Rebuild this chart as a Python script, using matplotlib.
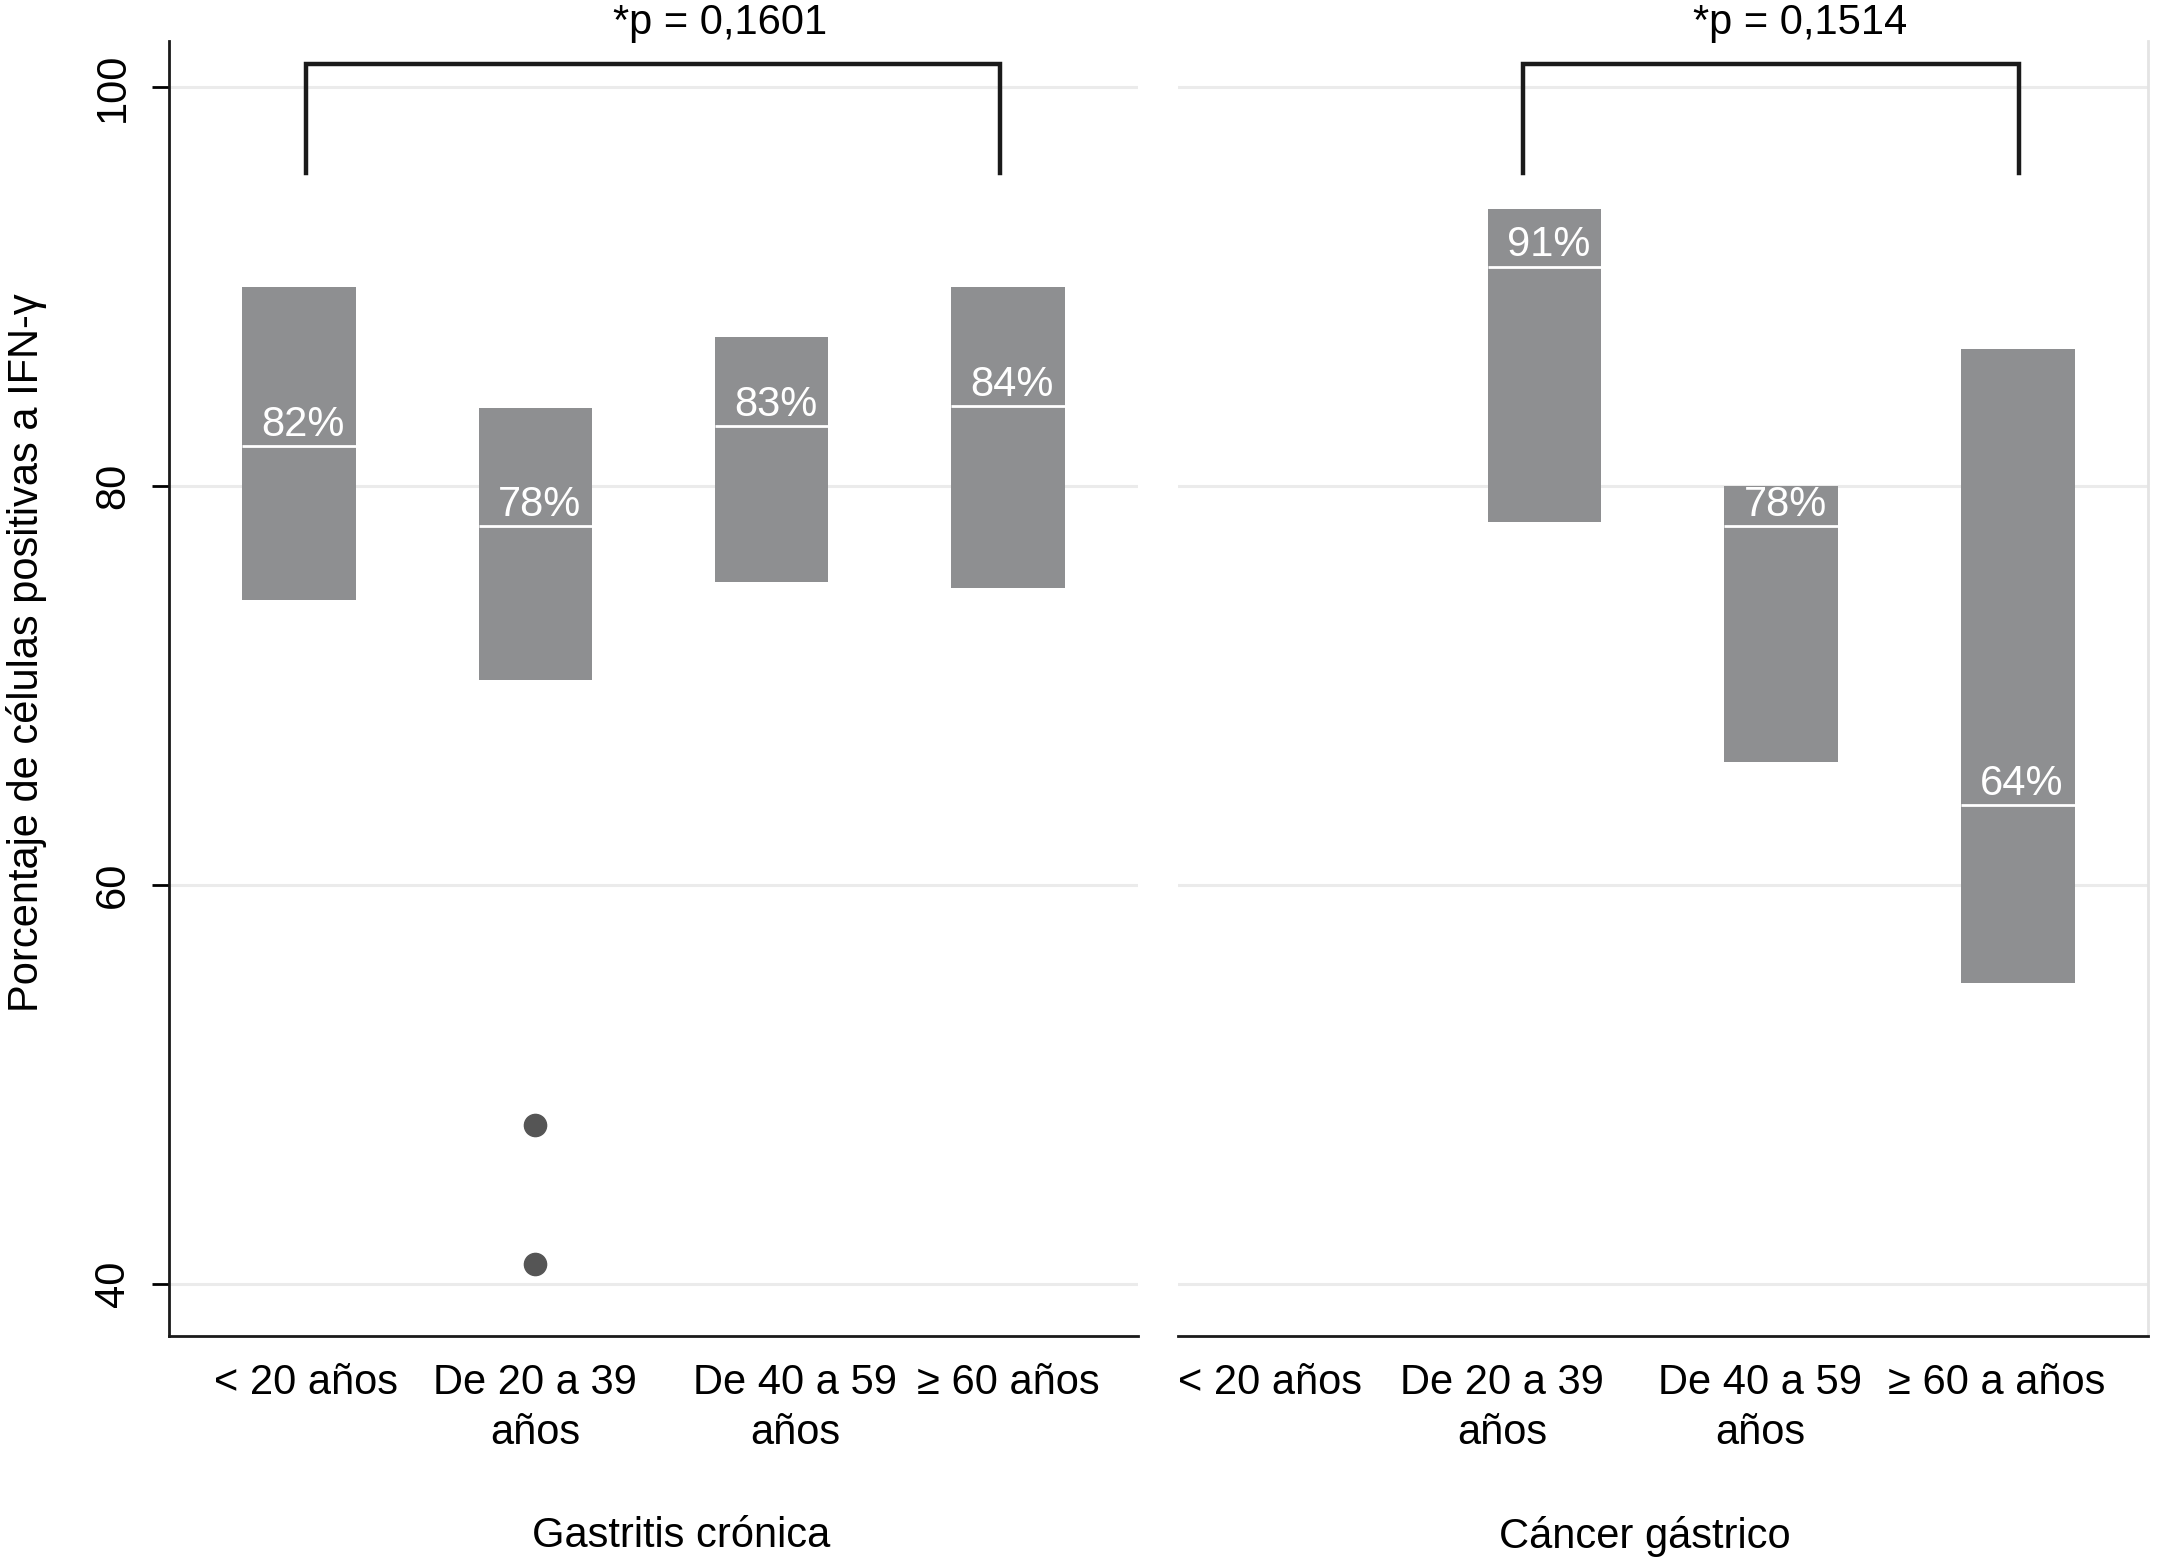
import numpy as np
import matplotlib
matplotlib.use('Agg')
import matplotlib.pyplot as plt

plt.rcParams['font.family'] = ['Liberation Sans', 'DejaVu Sans']

# data
ages_gastritis = ["< 20 años", "De 20 a 39\naños", "De 40 a 59\naños", "≥ 60 años"]
ages_cancer = ["< 20 años", "De 20 a 39\naños", "De 40 a 59\naños", "≥ 60 a años"]
panel_titles = ["Gastritis crónica", "Cáncer gástrico"]

gastritis_q1 = [74.3, 70.3, 75.2, 74.9]
gastritis_med = [82, 78, 83, 84]
gastritis_q3 = [90.0, 83.9, 87.5, 90.0]
gastritis_outlier_cat = [2, 2]
gastritis_outlier_val = [48.0, 41.0]

cancer_q1 = [np.nan, 78.2, 66.2, 55.1]
cancer_med = [np.nan, 91, 78, 64]
cancer_q3 = [np.nan, 93.9, 80.0, 86.9]

pvals = ["*p = 0,1601", "*p = 0,1514"]
# bracket ends (category positions) and text position
brackets = [(1.03, 3.965), (1.91, 4.005)]
ptext_x = [2.78, 3.08]

# small shifts of category labels, as in the original
label_shift = [[0.03, 0.0, 0.1, 0.0], [-0.16, -0.18, -0.09, -0.09]]

bar_color = "#8e8f91"
grid_color = "#ebebeb"
fs = 30

fig = plt.figure(figsize=(21.7, 15.58), dpi=100)
ax1 = fig.add_axes([0.0779, 0.1428, 0.4465, 0.8306])
ax2 = fig.add_axes([0.5428, 0.1428, 0.447, 0.8306])

panels = [
	(ax1, ages_gastritis, gastritis_q1, gastritis_med, gastritis_q3),
	(ax2, ages_cancer, cancer_q1, cancer_med, cancer_q3),
]

for i, (ax, labels, q1, med, q3) in enumerate(panels):
	x = np.arange(1, len(labels) + 1)
	q1 = np.array(q1, dtype=float)
	med = np.array(med, dtype=float)
	q3 = np.array(q3, dtype=float)
	w = 0.48
	ax.set_xlim(0.45, 4.55)
	ax.set_ylim(37.43, 102.29)
	ax.set_yticks([40, 60, 80, 100])
	for yv in [40, 60, 80, 100]:
		ax.axhline(yv, color=grid_color, lw=2.2, zorder=0)
	ok = ~np.isnan(med)
	ax.bar(x[ok], q3[ok] - q1[ok], bottom=q1[ok], width=w, color=bar_color, zorder=2)
	ax.hlines(med[ok], x[ok] - w / 2, x[ok] + w / 2, color="white", lw=2, zorder=3)
	for xi, m in zip(x[ok], med[ok]):
		ax.annotate("%d%%" % m, (xi, m), xytext=(3, 1), textcoords="offset points",
			ha="center", va="bottom", color="white", fontsize=fs, zorder=4)

	ax.set_xticks(x + np.array(label_shift[i]))
	ax.set_xticklabels(labels, fontsize=fs, linespacing=1.3)
	ax.tick_params(axis='x', length=0, pad=20)
	ax.set_xlabel(panel_titles[i], fontsize=fs, labelpad=46)

	# bracket with p value
	b0, b1 = brackets[i]
	ax.plot([b0, b0, b1, b1], [95.7, 101.18, 101.18, 95.7], color="#1a1a1a",
		lw=3.2, clip_on=False, zorder=5, solid_joinstyle='miter')
	ax.text(ptext_x[i], 103.2, pvals[i], ha="center", va="center", fontsize=fs,
		clip_on=False)

	ax.spines['top'].set_visible(False)
	ax.spines['bottom'].set_color("#1a1a1a")
	ax.spines['bottom'].set_linewidth(2)

ax1.plot(gastritis_outlier_cat, gastritis_outlier_val, 'o', color="#555555",
	markersize=16, zorder=3)
ax1.xaxis.label.set_x(0.529)
ax2.xaxis.label.set_x(0.481)

ax1.spines['right'].set_visible(False)
ax1.spines['left'].set_color("#1a1a1a")
ax1.spines['left'].set_linewidth(2)
ax1.tick_params(axis='y', length=12, width=2, pad=14, labelsize=fs, labelrotation=90)
for lab in ax1.get_yticklabels():
	lab.set_va("center")
ax1.set_ylabel("Porcentaje de células positivas a IFN-γ", fontsize=fs)
ax1.yaxis.set_label_coords(-0.126, 0.528)

ax2.spines['left'].set_visible(False)
ax2.spines['right'].set_color("#e4e4e4")
ax2.spines['right'].set_linewidth(2)
ax2.tick_params(axis='y', left=False, labelleft=False)

fig.savefig("out.png", dpi=100)
